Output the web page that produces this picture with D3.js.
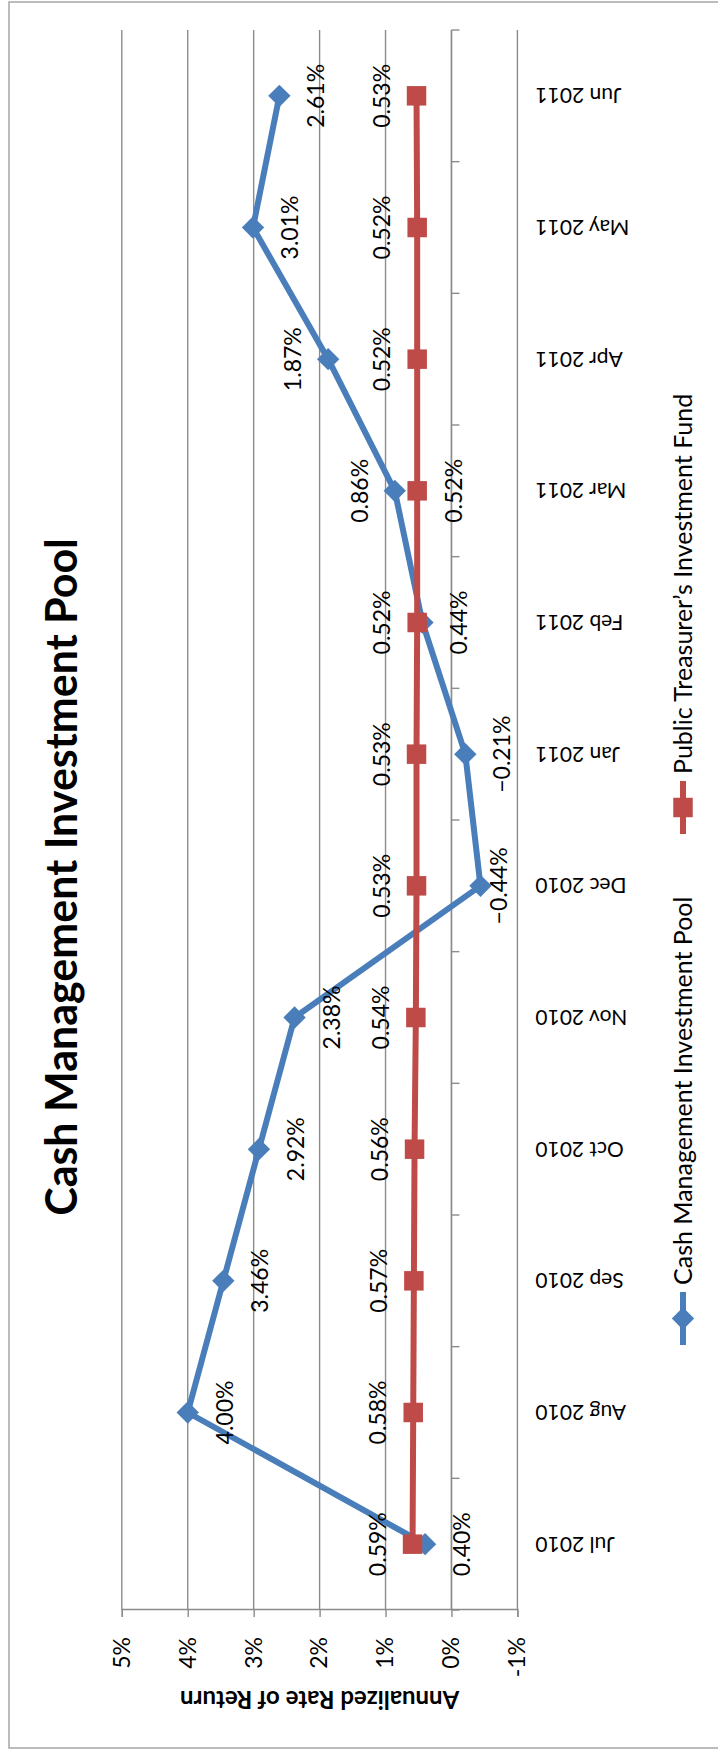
<!DOCTYPE html>
<html>
<head>
<meta charset="utf-8">
<script src="https://cdn.jsdelivr.net/npm/d3@7"></script>
<style>
  html, body { margin: 0; padding: 0; background: #ffffff; }
  svg { display: block; }
</style>
</head>
<body>
<script>
// ---- data ----
const categories = ["Jul 2010", "Aug 2010", "Sep 2010", "Oct 2010", "Nov 2010", "Dec 2010",
                    "Jan 2011", "Feb 2011", "Mar 2011", "Apr 2011", "May 2011", "Jun 2011"];
const cmipValues = [0.40, 4.00, 3.46, 2.92, 2.38, -0.44, -0.21, 0.44, 0.86, 1.87, 3.01, 2.61];
const ptifValues = [0.59, 0.58, 0.57, 0.56, 0.54, 0.53, 0.53, 0.52, 0.52, 0.52, 0.52, 0.53];
const valueTicks = [5, 4, 3, 2, 1, 0, -1];
const seriesNames = ["Cash Management Investment Pool", "Public Treasurer\u2019s Investment Fund"];
const chartTitle = "Cash Management Investment Pool";
const valueAxisTitle = "Annualized Rate of Return";
// which side of its point each value label sits on ("near" = pulled in close)
const cmipLabelSide = ["below", "below", "below", "below", "below", "below-near",
                       "below", "below", "above", "above", "below", "below"];
const ptifLabelSide = ["above", "above", "above", "above", "above", "above",
                       "above", "above", "below", "above", "above", "above"];

// ---- layout ----
// The chart is laid out landscape (W x H) and then turned a quarter turn
// counter-clockwise onto the portrait page.
const PAGE_W = 718, PAGE_H = 1749;
const W = PAGE_H, H = PAGE_W;
const FONT = "Lato, 'Open Sans', 'DejaVu Sans', sans-serif";
const BLUE = "#4a7ebb", RED = "#be4b48", GRID = "#8c8c8c", AXIS = "#8c8c8c";

const plot = { left: 139, right: 1719, top: 121.8, bottom: 517.4 };

const svg = d3.select("body").append("svg")
  .attr("width", PAGE_W).attr("height", PAGE_H);

const g = svg.append("g")
  .attr("transform", `translate(0,${PAGE_H}) rotate(-90)`)
  .style("font-family", FONT);

// chart area border
g.append("rect")
  .attr("x", 1).attr("y", 9)
  .attr("width", W - 3).attr("height", H + 20)
  .attr("fill", "none").attr("stroke", "#a6a6a6").attr("stroke-width", 1.5);

const x = d3.scaleBand().domain(categories).range([plot.left, plot.right]);
const cx = c => x(c) + x.bandwidth() / 2;
const y = d3.scaleLinear().domain([-1, 5]).range([plot.bottom, plot.top]);

// horizontal gridlines
g.append("g").selectAll("line").data(valueTicks).join("line")
  .attr("x1", plot.left).attr("x2", plot.right)
  .attr("y1", d => y(d)).attr("y2", d => y(d))
  .attr("stroke", GRID).attr("stroke-width", 1.4);

// value axis
const yAxis = g.append("g")
  .attr("transform", `translate(${plot.left},0)`)
  .call(d3.axisLeft(y).tickValues(valueTicks).tickSize(7).tickPadding(20)
        .tickFormat(d => d + "%"));
yAxis.select(".domain").attr("stroke", AXIS).attr("stroke-width", 1.4);
yAxis.selectAll(".tick line").attr("stroke", AXIS).attr("stroke-width", 1.4);
yAxis.selectAll(".tick text")
  .attr("fill", "#000").style("font-size", "23px").style("font-family", FONT);

// value axis title
g.append("text")
  .attr("transform", `translate(50,${(plot.top + plot.bottom) / 2}) rotate(-90)`)
  .attr("text-anchor", "middle").attr("dy", "0.35em")
  .style("font-size", "24px").style("font-weight", "bold")
  .text(valueAxisTitle);

// category axis (crosses at 0%)
const xAxisG = g.append("g");
xAxisG.append("line")
  .attr("x1", plot.left).attr("x2", plot.right)
  .attr("y1", y(0)).attr("y2", y(0))
  .attr("stroke", AXIS).attr("stroke-width", 1.4);
const boundaries = categories.map(c => x(c)).concat([x.range()[1]]);
xAxisG.selectAll("line.tick").data(boundaries).join("line")
  .attr("class", "tick")
  .attr("x1", d => d).attr("x2", d => d)
  .attr("y1", y(0)).attr("y2", y(0) + 8)
  .attr("stroke", AXIS).attr("stroke-width", 1.4);

// category labels, placed below the plot area and turned upright
g.append("g").selectAll("text").data(categories).join("text")
  .attr("transform", d => `translate(${cx(d)},${plot.bottom + 18}) rotate(-90)`)
  .attr("text-anchor", "end").attr("dy", "0.35em")
  .style("font-size", "21px")
  .text(d => d);

// series lines and markers
const series = [
  { name: seriesNames[0], values: cmipValues, color: BLUE, marker: "diamond", side: cmipLabelSide },
  { name: seriesNames[1], values: ptifValues, color: RED, marker: "square", side: ptifLabelSide }
];

const line = d3.line().x((d, i) => cx(categories[i])).y(d => y(d));
const diamond = d3.symbol(d3.symbolSquare, 250)();
const square = d3.symbol(d3.symbolSquare, 380)();

series.forEach(s => {
  g.append("path")
    .attr("d", line(s.values))
    .attr("fill", "none").attr("stroke", s.color)
    .attr("stroke-width", 6).attr("stroke-linejoin", "round");
  g.append("g").selectAll("path").data(s.values).join("path")
    .attr("transform", (d, i) => `translate(${cx(categories[i])},${y(d)})` +
          (s.marker === "diamond" ? " rotate(45)" : ""))
    .attr("d", s.marker === "diamond" ? diamond : square)
    .attr("fill", s.color);
});

// value labels
const labelY = (v, side) => {
  if (side === "above") return y(v) - 27;
  if (side === "below-near") return y(v) + 27;
  return y(v) + 45;
};
series.forEach(s => {
  g.append("g").selectAll("text").data(s.values).join("text")
    .attr("x", (d, i) => cx(categories[i]))
    .attr("y", (d, i) => labelY(d, s.side[i]))
    .attr("text-anchor", "middle")
    .style("font-size", "23px")
    .text(d => d3.format(".2f")(d) + "%");
});

// chart title
g.append("text")
  .attr("x", 872).attr("y", 77)
  .attr("text-anchor", "middle")
  .style("font-size", "43px").style("font-weight", "bold")
  .text(chartTitle);

// legend
const legend = g.append("g").attr("transform", "translate(0,683)");
const legendItems = [
  { name: seriesNames[0], color: BLUE, marker: "diamond", x0: 404 },
  { name: seriesNames[1], color: RED, marker: "square", x0: 915 }
];
legendItems.forEach(item => {
  const li = legend.append("g").attr("transform", `translate(${item.x0},0)`);
  li.append("line").attr("x1", 0).attr("x2", 53).attr("y1", 0).attr("y2", 0)
    .attr("stroke", item.color).attr("stroke-width", 6);
  li.append("path")
    .attr("transform", `translate(26.5,0)` + (item.marker === "diamond" ? " rotate(45)" : ""))
    .attr("d", item.marker === "diamond" ? diamond : square)
    .attr("fill", item.color);
  li.append("text")
    .attr("x", 60).attr("dy", "0.35em")
    .style("font-size", "25px")
    .text(item.name);
});
</script>
</body>
</html>
